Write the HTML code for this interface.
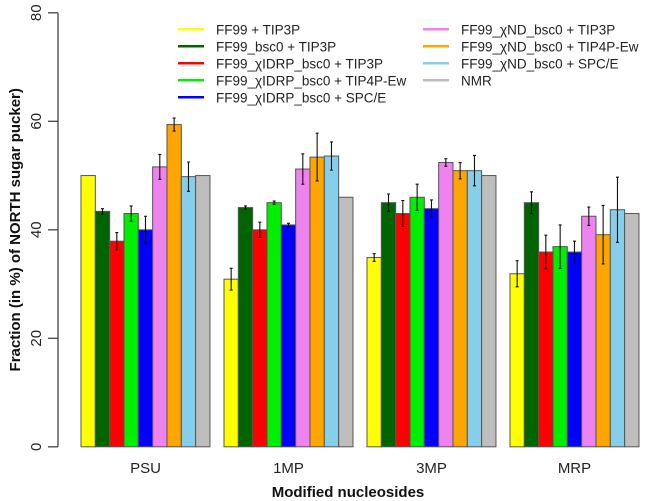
<!DOCTYPE html>
<html><head><meta charset="utf-8"><style>
body{margin:0;background:#fff;}
svg{display:block;font-family:"Liberation Sans",sans-serif;}
</style></head><body>
<svg id="chart" width="645" height="501">
<g id="axes"></g><g id="bars"></g><g id="legend"></g>
</svg>
<script>
const categories = ["PSU","1MP","3MP","MRP"];
const seriesNames = ["FF99 + TIP3P","FF99_bsc0 + TIP3P","FF99_\u03c7IDRP_bsc0 + TIP3P","FF99_\u03c7IDRP_bsc0 + TIP4P-Ew","FF99_\u03c7IDRP_bsc0 + SPC/E","FF99_\u03c7ND_bsc0 + TIP3P","FF99_\u03c7ND_bsc0 + TIP4P-Ew","FF99_\u03c7ND_bsc0 + SPC/E","NMR"];
const seriesColors = ["#ffff00","#006400","#ff0000","#00ee00","#0000ff","#ee82ee","#ffa500","#87ceeb","#bebebe"];
const values = [
 [50.0,43.4,37.9,43.0,40.0,51.6,59.4,49.8,50.0],
 [30.9,44.1,40.0,45.0,40.9,51.2,53.4,53.6,46.0],
 [34.9,45.0,43.0,46.0,43.9,52.4,50.9,50.9,50.0],
 [31.9,45.0,35.9,36.9,35.9,42.5,39.1,43.7,43.0]
];
const errors = [
 [0,0.5,1.6,1.4,2.5,2.3,1.2,2.7,0],
 [2.0,0.3,1.4,0.3,0.3,2.8,4.4,2.6,0],
 [0.7,1.6,2.4,2.4,1.6,0.7,1.5,2.8,0],
 [2.4,2.0,3.1,4.0,2.0,1.7,5.4,6.0,0]
];
const yTicks = [0,20,40,60,80];

const NS="http://www.w3.org/2000/svg";
function mk(tag,attrs,parent){const e=document.createElementNS(NS,tag);for(const k in attrs)e.setAttribute(k,attrs[k]);parent.appendChild(e);return e;}
const y0=446.8, yScale=5.425;
function yPos(v){return y0 - v*yScale;}
const barW=14.33, groupStart=81, groupStep=143;
function xPos(g,s){return groupStart + g*groupStep + s*barW;}

const axes=document.getElementById('axes');
const yAxis=mk('line',{x1:58,x2:58,y1:yPos(80),y2:yPos(0),stroke:'#444','stroke-width':1.3},axes);


yTicks.forEach(t=>{
  const tk=mk('line',{x1:48,x2:58,y1:yPos(t),y2:yPos(t),stroke:'#444','stroke-width':1.3},axes);
  
  
  const tl=mk('text',{x:0,y:0,transform:`translate(41,${yPos(t)}) rotate(-90)`,'text-anchor':'middle','font-size':15,fill:'#222'},axes);
  tl.textContent=t;
  
  
});
const yt=mk('text',{transform:`translate(20,${yPos(40)}) rotate(-90)`,'text-anchor':'middle','font-size':15,'font-weight':'bold',fill:'#111'},axes);
yt.textContent='Fraction (in %) of NORTH sugar pucker)';


const xt=mk('text',{x:348,y:497,'text-anchor':'middle','font-size':15,'font-weight':'bold',fill:'#111'},axes);
xt.textContent='Modified nucleosides';



const bars=document.getElementById('bars');
categories.forEach((c,g)=>{
  const cl=mk('text',{x:xPos(g,4.5),y:473,'text-anchor':'middle','font-size':15,fill:'#222'},bars);
  cl.textContent=c;
  
  
  values[g].forEach((v,s)=>{
    const r=mk('rect',{x:xPos(g,s),y:yPos(v),width:barW,height:yPos(0)-yPos(v),fill:seriesColors[s],stroke:'#555','stroke-width':1},bars);
    
    
    const e=errors[g][s];
    if(e>0){
      const cx=xPos(g,s)+barW/2;
      const eb=mk('path',{d:`M${cx},${yPos(v+e)}V${yPos(v-e)}M${cx-1.5},${yPos(v+e)}H${cx+1.5}M${cx-1.5},${yPos(v-e)}H${cx+1.5}`,stroke:'#111','stroke-width':1.1,fill:'none'},bars);
      
      
    }
  });
});

const legend=document.getElementById('legend');
seriesNames.forEach((n,i)=>{
  const col=i<5?0:1, row=i<5?i:i-5;
  const lx=col?423:178, tx=col?461:216, ly=29.3+row*17;
  const g=mk('g',{},legend);
  
  
  mk('line',{x1:lx,x2:lx+26,y1:ly,y2:ly,stroke:seriesColors[i],'stroke-width':2.5},g);
  const t=mk('text',{x:tx,y:ly+5,'font-size':13.5,fill:'#222'},g);
  t.textContent=n;
});
</script>
</body></html>
